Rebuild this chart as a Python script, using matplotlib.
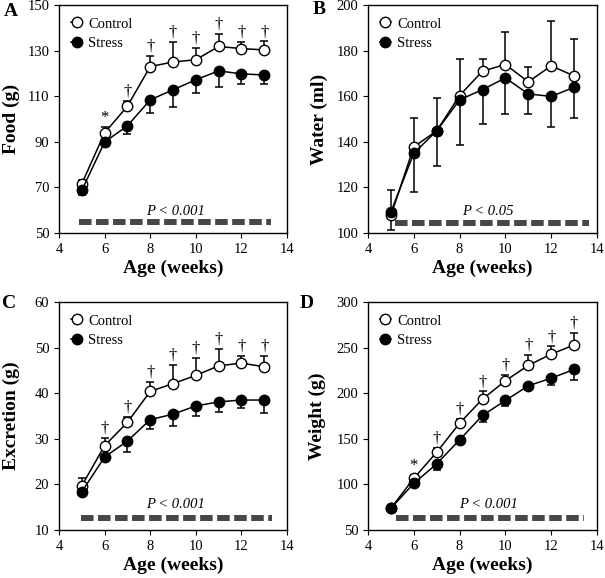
#!/usr/bin/env python3
"""
Four-panel figure: food, water, excretion and body weight of control vs
stressed animals by age. Saves out.png.
"""

import matplotlib
matplotlib.use('Agg')
import matplotlib.pyplot as plt

plt.rcParams['font.family'] = ['Liberation Serif', 'DejaVu Serif']
plt.rcParams['font.size'] = 10
plt.rcParams['axes.linewidth'] = 1.0
plt.rcParams['xtick.direction'] = 'out'
plt.rcParams['ytick.direction'] = 'out'
plt.rcParams['xtick.major.size'] = 3.5
plt.rcParams['ytick.major.size'] = 3.5
plt.rcParams['xtick.labelsize'] = 10.5
plt.rcParams['ytick.labelsize'] = 10.5

# Data
AGE = [5, 6, 7, 8, 9, 10, 11, 12, 13]

FOOD_CONTROL = [71.6, 93.9, 105.6, 123.0, 125.0, 126.0, 131.8, 130.9, 130.3]
FOOD_CONTROL_ERR = [1.5, 2.4, 2.5, 4.8, 8.8, 5.0, 5.4, 3.0, 3.7]
FOOD_STRESS = [68.7, 89.9, 97.0, 108.4, 112.8, 117.2, 121.1, 119.8, 119.3]
FOOD_STRESS_ERR = [2.0, 1.0, 3.5, 5.8, 7.6, 5.7, 7.1, 4.6, 4.1]
FOOD_SIG = ['', '*', '†', '†', '†', '†', '†', '†', '†']

WATER_CONTROL = [107.7, 137.8, 144.8, 160.3, 171.0, 173.9, 166.3, 173.3, 168.9]
WATER_CONTROL_ERR = [11.0, 12.7, 14.3, 16.1, 5.4, 14.1, 6.3, 19.7, 16.1]
WATER_STRESS = [109.2, 135.0, 144.8, 158.4, 162.9, 168.0, 161.0, 159.9, 163.9]
WATER_STRESS_ERR = [7.7, 17.2, 15.3, 20.0, 14.9, 15.9, 8.9, 13.6, 13.4]
WATER_SIG = ['', '', '', '', '', '', '', '', '']

EXCR_CONTROL = [19.7, 28.5, 33.6, 40.4, 42.1, 43.9, 46.0, 46.6, 45.8]
EXCR_CONTROL_ERR = [1.6, 1.7, 1.2, 2.0, 4.0, 3.8, 3.8, 1.5, 2.4]
EXCR_STRESS = [18.4, 26.0, 29.5, 34.2, 35.4, 37.2, 38.1, 38.5, 38.5]
EXCR_STRESS_ERR = [0.8, 0.8, 2.5, 2.1, 2.6, 2.1, 2.3, 1.8, 2.8]
EXCR_SIG = ['', '†', '†', '†', '†', '†', '†', '†', '†']

WEIGHT_CONTROL = [73.8, 106.7, 135.3, 167.1, 193.5, 213.6, 230.5, 242.9, 252.8]
WEIGHT_CONTROL_ERR = [2.0, 3.7, 5.0, 5.0, 8.4, 6.0, 11.0, 8.4, 12.8]
WEIGHT_STRESS = [73.8, 101.2, 122.5, 148.8, 175.6, 192.0, 208.1, 216.5, 226.0]
WEIGHT_STRESS_ERR = [2.0, 2.0, 6.6, 4.8, 7.7, 5.8, 4.4, 7.3, 11.3]
WEIGHT_SIG = ['', '*', '†', '†', '†', '†', '†', '†', '†']

BAR_COLOR = '#474747'


def draw_panel(ax, control, control_err, stress, stress_err, sig,
               ylabel, ylim, yticks, ptext, pxy, bar_span, bar_y, label_x):
    """One panel: two series with one-sided error bars and a P-value bar."""
    zeros = [0] * len(AGE)

    # error bars: control upwards, stress downwards
    ax.errorbar(AGE, control, yerr=[zeros, control_err], fmt='none',
                ecolor='black', elinewidth=1.1, capsize=3, capthick=1.1, zorder=2)
    ax.errorbar(AGE, stress, yerr=[stress_err, zeros], fmt='none',
                ecolor='black', elinewidth=1.1, capsize=3, capthick=1.1, zorder=2)

    ax.plot(AGE, control, '-o', color='black', lw=1.1, ms=7.5,
            mfc='white', mec='black', mew=1.0, label='Control', zorder=3)
    ax.plot(AGE, stress, '-o', color='black', lw=1.1, ms=7.5,
            mfc='black', mec='black', mew=1.0, label='Stress', zorder=4)

    for x, y, e, s in zip(AGE, control, control_err, sig):
        if s:
            ax.annotate(s, (x, y + e), xytext=(0, 1.0), textcoords='offset points',
                        ha='center', va='bottom', fontsize=12)

    # dashed significance bar (dash/gap in units of line width)
    ax.plot(bar_span, [bar_y, bar_y], color=BAR_COLOR, lw=4.3,
            dashes=(2.1, 0.75), zorder=1)
    ax.text(pxy[0], pxy[1], ptext, style='italic', ha='center', va='center',
            fontsize=10.5)

    ax.set_xlim(4, 14)
    ax.set_xticks([4, 6, 8, 10, 12, 14])
    ax.set_ylim(*ylim)
    ax.set_yticks(yticks)
    ax.set_xlabel('Age (weeks)', fontsize=14, fontweight='bold', labelpad=3)
    ax.set_ylabel(ylabel, fontsize=14, fontweight='bold')
    ax.yaxis.set_label_coords(label_x, 0.5)

    ax.legend(loc='upper left', frameon=False, handlelength=0.7,
              handletextpad=0.45, labelspacing=0.45, borderaxespad=0.45,
              fontsize=10.5)


def main() -> None:
    fig = plt.figure(figsize=(6.05, 5.78), dpi=100)

    W, H = 605, 578
    ax_a = fig.add_axes([59 / W, (H - 233) / H, 228 / W, 228 / H])
    ax_b = fig.add_axes([368 / W, (H - 233) / H, 229 / W, 228 / H])
    ax_c = fig.add_axes([59 / W, (H - 530) / H, 228 / W, 228 / H])
    ax_d = fig.add_axes([368 / W, (H - 530) / H, 229 / W, 228 / H])

    draw_panel(ax_a, FOOD_CONTROL, FOOD_CONTROL_ERR, FOOD_STRESS, FOOD_STRESS_ERR,
               FOOD_SIG, 'Food (g)', (50, 150), [50, 70, 90, 110, 130, 150],
               'P < 0.001', (9.1, 59.6), [4.88, 13.3], 55, -0.17)
    draw_panel(ax_b, WATER_CONTROL, WATER_CONTROL_ERR, WATER_STRESS, WATER_STRESS_ERR,
               WATER_SIG, 'Water (ml)', (100, 200), [100, 120, 140, 160, 180, 200],
               'P < 0.05', (9.25, 109.6), [5.2, 13.65], 104.6, -0.175)
    draw_panel(ax_c, EXCR_CONTROL, EXCR_CONTROL_ERR, EXCR_STRESS, EXCR_STRESS_ERR,
               EXCR_SIG, 'Excretion (g)', (10, 60), [10, 20, 30, 40, 50, 60],
               'P < 0.001', (9.1, 15.5), [4.95, 13.35], 12.7, -0.17)
    draw_panel(ax_d, WEIGHT_CONTROL, WEIGHT_CONTROL_ERR, WEIGHT_STRESS, WEIGHT_STRESS_ERR,
               WEIGHT_SIG, 'Weight (g)', (50, 300), [50, 100, 150, 200, 250, 300],
               'P < 0.001', (9.25, 77.5), [5.24, 13.43], 63.5, -0.185)

    for letter, (px, py) in zip('ABCD', [(10.5, 11.5), (319, 9), (9, 303), (307, 304)]):
        fig.text(px / W, 1 - py / H, letter, fontsize=14, fontweight='bold',
                 ha='center', va='center')

    fig.savefig('out.png', dpi=100)
    plt.close(fig)


if __name__ == '__main__':
    main()
